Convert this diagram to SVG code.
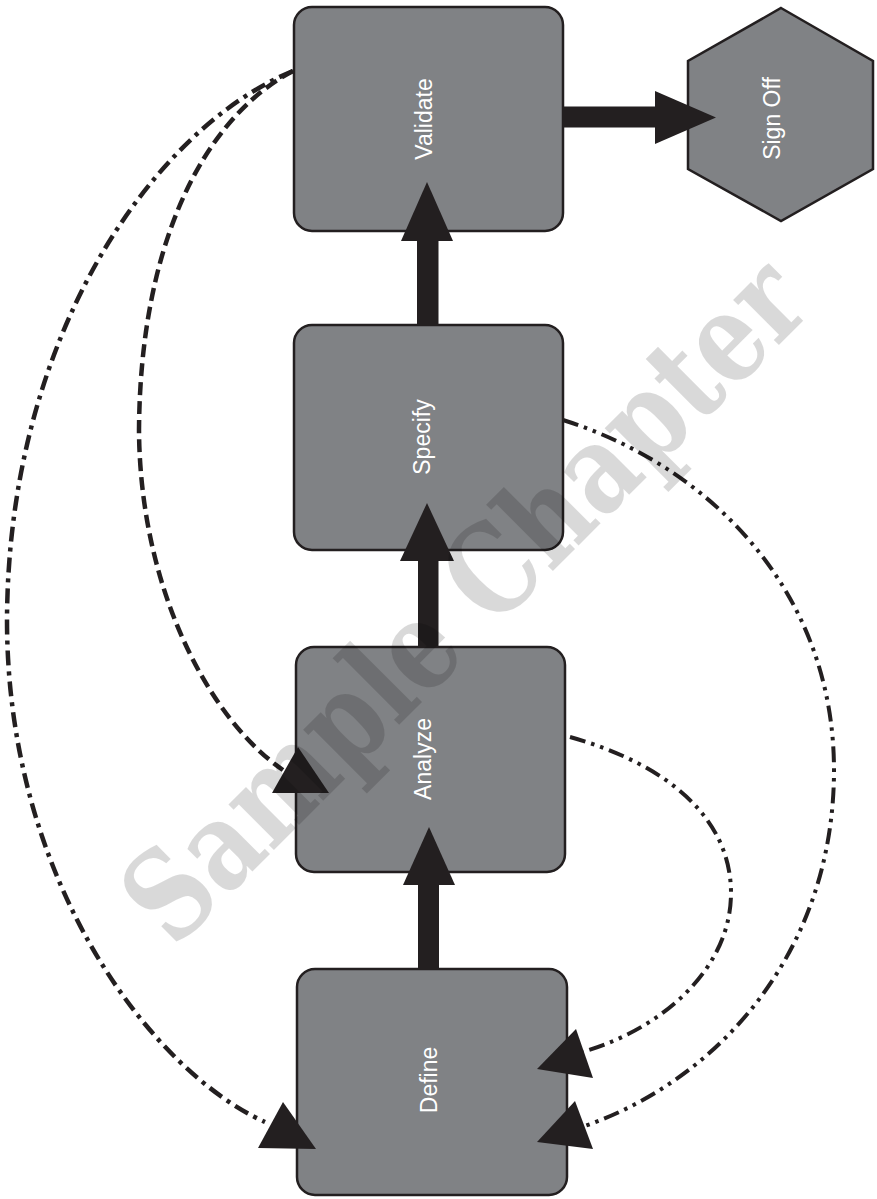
<svg xmlns="http://www.w3.org/2000/svg" width="877" height="1199" viewBox="0 0 877 1199">
<defs>
<style>
.box{fill:#808285;stroke:#231f20;stroke-width:2.5}
.lbl{font-family:"Liberation Sans",Arial,sans-serif;font-size:23px;fill:#ffffff;text-anchor:middle}
.solid{fill:#231f20;stroke:none}
.dl{fill:none;stroke:#231f20;stroke-width:4.5}
.dd{stroke-dasharray:15 6 4 6}
.da{stroke-dasharray:13 6}
.ddd{fill:none;stroke:#231f20;stroke-width:4;stroke-dasharray:16 6 3.5 6 3.5 6}
.wm{font-family:"DejaVu Serif","Liberation Serif",serif;font-weight:bold;font-size:124px;fill:#000000;fill-opacity:0.15;text-anchor:middle}
</style>
</defs>
<rect width="877" height="1199" fill="#ffffff"/>
<g id="node-validate">
<rect class="box" x="294" y="7" width="269" height="224" rx="18"/>
<text class="lbl" transform="translate(432,119) rotate(-90)">Validate</text>
</g>
<g id="node-signoff">
<polygon class="box" points="781,8 873,61 873,169 781,221 688,169 688,61"/>
<text class="lbl" transform="translate(780,118.5) rotate(-90)">Sign Off</text>
</g>
<g id="node-specify">
<rect class="box" x="294" y="325" width="269" height="225" rx="18"/>
<text class="lbl" transform="translate(430,437) rotate(-90)">Specify</text>
</g>
<g id="node-analyze">
<rect class="box" x="296" y="647" width="269" height="225" rx="18"/>
<text class="lbl" transform="translate(431,759) rotate(-90)">Analyze</text>
</g>
<g id="node-define">
<rect class="box" x="297" y="969" width="270" height="226" rx="18"/>
<text class="lbl" transform="translate(437,1080) rotate(-90)">Define</text>
</g>
<g id="connectors">
<rect class="solid" x="418" y="880" width="21" height="89"/>
<polygon class="solid" points="403,885 455,885 429,827"/>
<rect class="solid" x="418" y="556" width="20.5" height="91"/>
<polygon class="solid" points="400,561 454,561 427,503"/>
<rect class="solid" x="417" y="236" width="21.5" height="89"/>
<polygon class="solid" points="401,241 453,241 427,182"/>
<rect class="solid" x="563" y="106.5" width="96" height="21"/>
<polygon class="solid" points="655,91 655,144 716,117.5"/>
<path class="dl dd" d="M293,71 C150,130 8,340 7,620 C7,880 150,1070 265,1122"/>
<polygon class="solid" points="283,1102 258,1148 316,1149"/>
<path class="dl da" d="M293,71 C200,120 140,250 139,430 C140,590 210,720 283,770"/>
<polygon class="solid" points="298,747 272,793 329,793"/>
<path class="ddd" d="M563,420 C720,470 834,600 834,770 C834,950 720,1080 582,1127"/>
<polygon class="solid" points="575,1101 537,1142 593,1149"/>
<path class="ddd" d="M570,737 C670,765 731,820 731,893 C731,970 660,1030 582,1052"/>
<polygon class="solid" points="576,1029 537,1069 593,1078"/>
</g>
<g id="watermark">
<text class="wm" transform="translate(494,630) rotate(-45)" textLength="905" lengthAdjust="spacingAndGlyphs">Sample Chapter</text>
</g>
</svg>
